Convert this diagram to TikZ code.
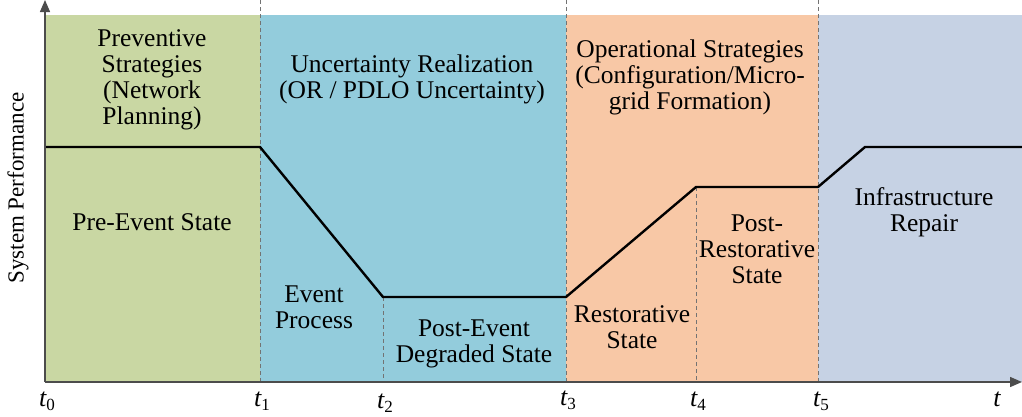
\documentclass[tikz,border=0pt]{standalone}
\usepackage{fontspec}
\setmainfont{Liberation Serif}
\usetikzlibrary{arrows.meta}
\definecolor{plangreen}{HTML}{C9D7A3}
\definecolor{eventblue}{HTML}{93CCDC}
\definecolor{oporange}{HTML}{F8C8A6}
\definecolor{repairgray}{HTML}{C6D2E4}
\newcommand{\tlabel}[1]{{\itshape t}\raisebox{-0.35ex}{\fontsize{17}{17}\selectfont #1}}
\tikzset{
  phase/.style={font=\fontsize{25.5}{26}\selectfont, align=center, inner sep=0pt},
  tick/.style={font=\fontsize{26}{26}\selectfont, inner sep=0pt},
  divider/.style={draw=black!55, line width=0.7pt, dash pattern=on 4pt off 3pt},
  axis/.style={draw=black!70, line width=1.4pt, -{Triangle[length=12pt,width=10pt]}},
  perf/.style={draw=black, line width=2.4pt, line join=miter}
}
\begin{document}
\begin{tikzpicture}[x=1pt,y=-1pt]
\useasboundingbox (0,0) rectangle (1022,416);
% coloured phase bands
\fill[plangreen] (45,15) rectangle (260,382);
\fill[eventblue] (260,15) rectangle (566,382);
\fill[oporange] (566,15) rectangle (818,382);
\fill[repairgray] (818,15) rectangle (1022,382);
% time markers
\coordinate (o) at (45,382);
\coordinate (ytop) at (45,0);
\coordinate (xend) at (1022,382);
\coordinate (d1t) at (260,0);   \coordinate (d1b) at (260,382);
\coordinate (d3t) at (566,0);   \coordinate (d3b) at (566,382);
\coordinate (d5t) at (818,0);   \coordinate (d5b) at (818,382);
% system performance curve
\coordinate (p0) at (45,147);
\coordinate (p1) at (260,147);
\coordinate (p2) at (383,297);
\coordinate (p3) at (566,297);
\coordinate (p4) at (696,187);
\coordinate (p5) at (818,187);
\coordinate (p6) at (865,147);
\coordinate (p7) at (1022,147);
\coordinate (d2b) at (383,382);
\coordinate (d4b) at (696,382);
\draw[divider] (d1t) -- (d1b);
\draw[divider] (d3t) -- (d3b);
\draw[divider] (d5t) -- (d5b);
\draw[divider] (p2) -- (d2b);
\draw[divider] (p4) -- (d4b);
\draw[perf] (p0) -- (p1) -- (p2) -- (p3) -- (p4) -- (p5) -- (p6) -- (p7);
% axes
\draw[axis] (o) -- (ytop);
\draw[axis] (o) -- (xend);
\node[rotate=90, font=\fontsize{23}{23}\selectfont] (ylab) at (18,188) {System Performance};
% tick labels
\node[tick] (t0) at (47,401) {\tlabel{0}};
\node[tick] (t1) at (262,401) {\tlabel{1}};
\node[tick] (t2) at (385,403) {\tlabel{2}};
\node[tick] (t3) at (568,400) {\tlabel{3}};
\node[tick] (t4) at (698,401) {\tlabel{4}};
\node[tick] (t5) at (821,401) {\tlabel{5}};
\node[tick] (t) at (997,399) {\itshape t};
% phase descriptions
\node[phase] (prev) at (152,80) {Preventive\\Strategies\\(Network\\Planning)};
\node[phase] (pre) at (152,222) {Pre-Event State};
\node[phase] (unc) at (412,79) {Uncertainty Realization\\(OR / PDLO Uncertainty)};
\node[phase] (evt) at (314,307) {Event\\Process};
\node[phase] (deg) at (474,344) {Post-Event\\Degraded State};
\node[phase] (ops) at (690,77) {Operational Strategies\\(Configuration/Micro-\\grid Formation)};
\node[phase] (rest) at (632,327) {Restorative\\State};
\node[phase] (post) at (757,249) {Post-\\Restorative\\State};
\node[phase] (rep) at (924,212) {Infrastructure\\Repair};
\end{tikzpicture}
\end{document}
